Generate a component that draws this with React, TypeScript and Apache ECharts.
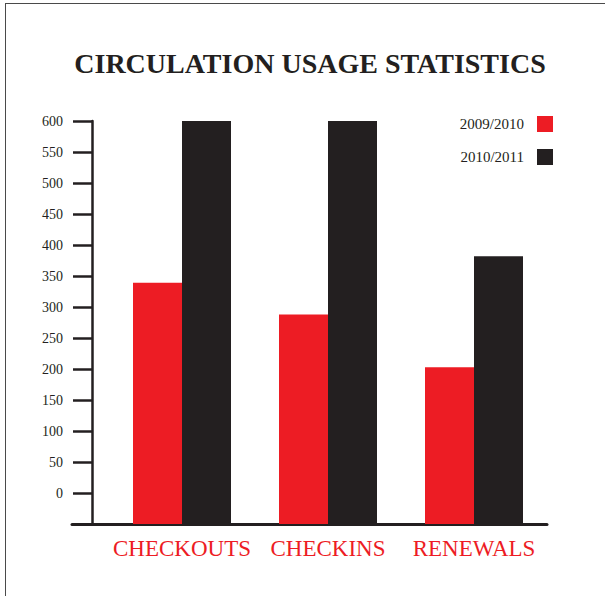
import React, { useEffect, useRef } from "react";
import * as echarts from "echarts";

const categories = ["CHECKOUTS", "CHECKINS", "RENEWALS"];
const seriesNames = ["2009/2010", "2010/2011"];
const values2009 = [339, 288, 203];
const values2010 = [600, 600, 382];
// the baseline of the chart sits one step (50) below zero
const baseOffset = 50;
const axisMax = 600;
const axisStep = 50;

const RED = "#ed1c24";
const BLACK = "#231f20";
const FONT = "'Liberation Serif', 'Times New Roman', serif";

export default function App() {
  const ref = useRef<HTMLDivElement>(null);
  useEffect(() => {
    if (!ref.current) return;
    const chart = echarts.init(ref.current, undefined, { renderer: "svg" });
    chart.setOption({
      animation: false,
      backgroundColor: "#ffffff",
      title: {
        text: "CIRCULATION USAGE STATISTICS",
        left: 305,
        textAlign: "center",
        top: 44,
        textStyle: { fontFamily: FONT, fontSize: 28, fontWeight: "bold", color: BLACK },
      },
      legend: {
        orient: "vertical",
        right: 47,
        top: 111,
        align: "right",
        itemWidth: 16,
        itemHeight: 16,
        itemGap: 17,
        icon: "rect",
        textStyle: { fontFamily: FONT, fontSize: 15, color: BLACK, padding: [0, 8, 0, 0] },
        data: seriesNames,
      },
      graphic: [
        { type: "line", shape: { x1: 5, y1: 3.5, x2: 605, y2: 3.5 }, style: { stroke: "#4a4a4a", lineWidth: 1 } },
        { type: "line", shape: { x1: 5.5, y1: 3, x2: 5.5, y2: 596 }, style: { stroke: "#4a4a4a", lineWidth: 1 } },
      ],
      grid: [
        { left: 109, right: 58, top: 121, bottom: 72 },
        { left: 72, right: 58, top: 121, bottom: 72 },
      ],
      xAxis: [
        {
          type: "category",
          gridIndex: 0,
          data: categories,
          axisLine: { show: false },
          axisTick: { show: false },
          axisLabel: { color: RED, fontFamily: FONT, fontSize: 23, margin: 13, interval: 0 },
        },
        {
          type: "category",
          gridIndex: 1,
          data: categories,
          axisLine: { show: true, lineStyle: { color: BLACK, width: 3 } },
          axisTick: { show: false },
          axisLabel: { show: false },
        },
      ],
      yAxis: [
        {
          type: "value",
          gridIndex: 0,
          min: 0,
          max: axisMax + baseOffset,
          interval: axisStep,
          offset: 17,
          splitLine: { show: false },
          axisLine: { show: true, lineStyle: { color: BLACK, width: 2.5 } },
          axisTick: { show: true, length: 19, lineStyle: { color: BLACK, width: 2.5 } },
          axisLabel: {
            color: BLACK,
            fontFamily: FONT,
            fontSize: 14,
            margin: 29,
            formatter: (v: number) => (v === 0 ? "" : String(v - baseOffset)),
          },
        },
        { type: "value", gridIndex: 1, min: 0, max: 1, show: false },
      ],
      series: [
        {
          name: seriesNames[0],
          type: "bar",
          xAxisIndex: 0,
          yAxisIndex: 0,
          barWidth: 49,
          barGap: "0%",
          itemStyle: { color: RED },
          data: values2009.map((v) => v + baseOffset),
        },
        {
          name: seriesNames[1],
          type: "bar",
          xAxisIndex: 0,
          yAxisIndex: 0,
          barWidth: 49,
          barGap: "0%",
          itemStyle: { color: BLACK },
          data: values2010.map((v) => v + baseOffset),
        },
      ],
    });
    return () => chart.dispose();
  }, []);
  return (
    <div
      ref={ref}
      style={{ position: "fixed", left: 0, top: 0, width: 605, height: 596 }}
    />
  );
}
